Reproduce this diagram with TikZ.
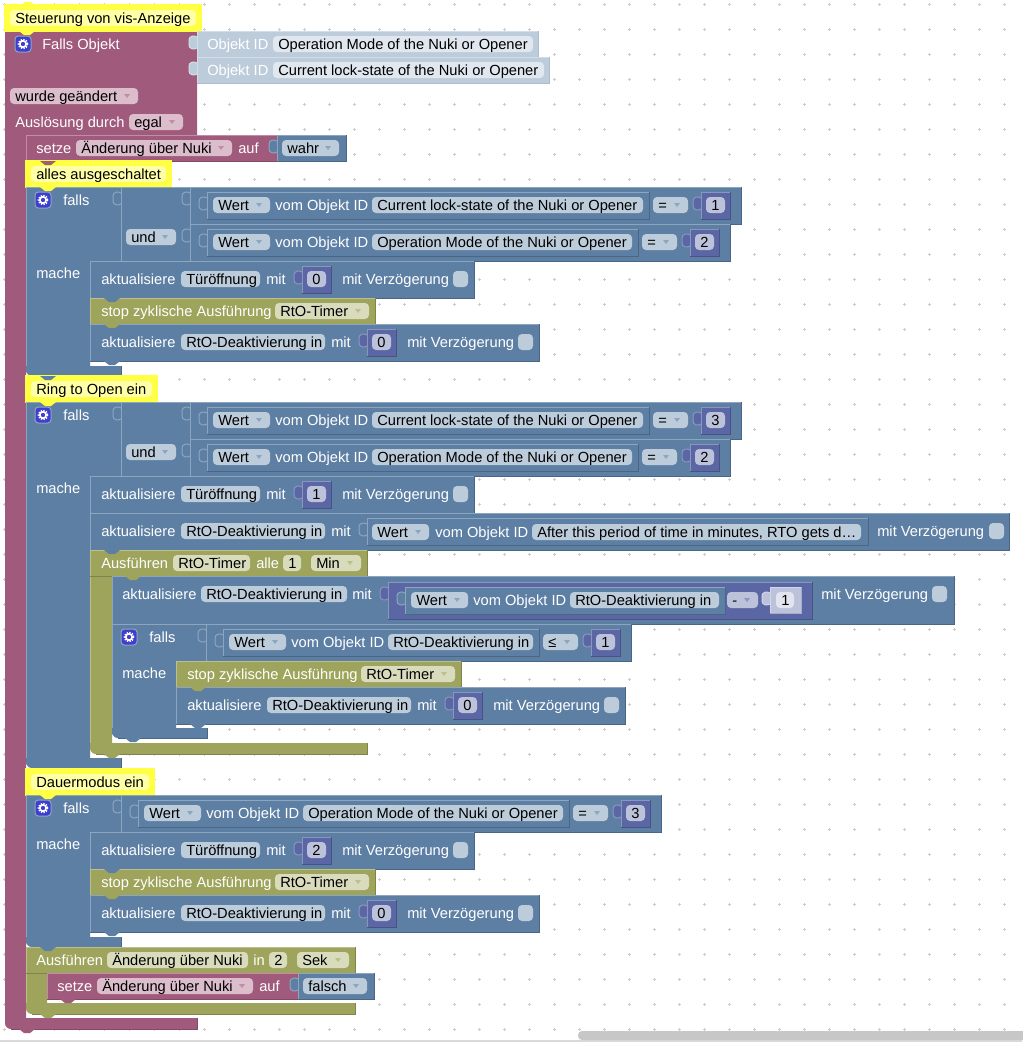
\documentclass[tikz,border=0pt]{standalone}
\usepackage{fontspec}
\setmainfont{Liberation Sans}
\definecolor{blueM}{HTML}{5E7FA4}\definecolor{blueL}{HTML}{8CA6C0}\definecolor{blueD}{HTML}{496684}\definecolor{blueP}{HTML}{BDCCDB}
\definecolor{roseM}{HTML}{A05A7C}\definecolor{roseL}{HTML}{C08CA6}\definecolor{roseD}{HTML}{844966}\definecolor{roseP}{HTML}{DBBDCC}
\definecolor{oliveM}{HTML}{9FA45C}\definecolor{oliveL}{HTML}{BCC08C}\definecolor{oliveD}{HTML}{808449}\definecolor{oliveP}{HTML}{D9DBBD}
\definecolor{mathM}{HTML}{5B67A5}\definecolor{mathL}{HTML}{8C95C0}\definecolor{mathD}{HTML}{495284}\definecolor{mathP}{HTML}{BDC2DB}
\definecolor{glassM}{HTML}{BDCCDB}\definecolor{glassL}{HTML}{D3DDE8}\definecolor{glassD}{HTML}{AABCCE}\definecolor{glassP}{HTML}{E0E7EE}
\definecolor{lilacM}{HTML}{BDC2DB}\definecolor{lilacL}{HTML}{D3D6E8}\definecolor{lilacD}{HTML}{A5ABCB}\definecolor{lilacP}{HTML}{E2E4F0}
\definecolor{noteM}{HTML}{FFFF44}\definecolor{noteP}{HTML}{FFFFA8}
\definecolor{gearB}{HTML}{3F3FCF}
\tikzset{x=0.75pt,y=-0.75pt,
    ink/.style={anchor=base west,inner sep=0pt,text=white,font=\fontsize{11}{13}\selectfont},
    dark/.style={ink,text=black},
    edge/.style={line width=0.75pt}}
% blocks, in pixels of the screenshot
\newcommand{\blk}[5]{\fill[#1M] (#2,#3) rectangle (#4,#5);
    \draw[#1L,edge] (#2,#5) -- (#2,#3) -- (#4,#3);
    \draw[#1D,edge] (#4,#3) -- (#4,#5) -- (#2,#5);}
\newcommand{\head}[4]{\fill[blueM] (#1,#2) rectangle (#3,#4);
    \draw[blueL,edge] (#1,#4) -- (#1,#2) -- (#3,#2);}
\newcommand{\cee}[7]{\fill[#1M] (#2,#3) -- (#4,#3) -- (#4,#5) -- (#6,#5) -- (#6,#7)
    {[rounded corners=4.5pt] -- (#2,#7) -- (#2,#5)} -- cycle;
    \draw[#1L,edge] (#2,#5) -- (#2,#3);
    \draw[#1D,edge] (#6,#5) -- (#6,#7) -- (#2+6,#7);}
\newcommand{\notch}[3]{\fill[#1M] (#2-8,#3) -- (#2-3,#3+4) -- (#2+3,#3+4) -- (#2+8,#3) -- cycle;}
\newcommand{\socket}[3]{\filldraw[fill=#1M,draw=#1L,edge] (#2,#3+6) .. controls (#2-3,#3+4) and (#2-8,#3+5) .. (#2-8,#3+9)
    -- (#2-8,#3+14) .. controls (#2-8,#3+18) and (#2-3,#3+19) .. (#2,#3+17);}
\newcommand{\lbl}[3]{\node[ink] (l#1-#2) at (#1,#2+5) {#3};}
\newcommand{\pill}[5]{\fill[#1P,rounded corners=3pt] (#2,#4-8) rectangle (#3,#4+8);
    \node[dark] (p#2-#4) at (#2+5,#4+5) {#5};}
\newcommand{\dd}[5]{\pill{#1}{#2}{#3}{#4}{#5}
    \fill[#1L] (#3-14,#4-2) -- (#3-8,#4-2) -- (#3-11,#4+2) -- cycle;}
\newcommand{\chk}[2]{\fill[blueP,rounded corners=3pt] (#1,#2-8) rectangle (#1+15,#2+8);}
\newcommand{\gear}[2]{\filldraw[fill=gearB,draw=blueL,edge,rounded corners=2.5pt] (#1-8,#2-8) rectangle (#1+8,#2+8);
    \draw[white,line width=1.2pt] (#1,#2) circle (2.4pt);
    \draw[white,line width=1.2pt,dash pattern=on 1pt off 1pt] (#1,#2) circle (3.4pt);}
\newcommand{\cmt}[4]{\filldraw[fill=noteM,draw=noteM,line width=1.5pt] (#1,#2) rectangle (#3,#2+26);
    \fill[noteP,rounded corners=3pt] (#1+5,#2+5) rectangle (#3-5,#2+21);
    \node[dark] (c#1-#2) at (#1+10,#2+18) {#4};}
\newcommand{\num}[4]{\socket{math}{#1}{#2}\blk{math}{#1}{#2}{#1+29}{#2+27}
    \pgfmathtruncatemacro\numx{#1+5}\pgfmathtruncatemacro\numr{#1+24}\pgfmathtruncatemacro\numy{#2+13}
    \pill{math}{\numx}{\numr}{\numy}{#3}}
% nested "Wert vom Objekt ID" block, #1 left, #2 top, #3 pill width, #4 text
\newcommand{\wert}[4]{\pgfmathtruncatemacro\wxy{#2+13}\pgfmathtruncatemacro\wxa{#1+6}\pgfmathtruncatemacro\wxb{#1+63}
    \pgfmathtruncatemacro\wxc{#1+68}\pgfmathtruncatemacro\wxd{#1+165}\pgfmathtruncatemacro\wxe{#1+165+#3}
    \socket{blue}{#1}{#2}\blk{blue}{#1}{#2}{#1+165+#3+6}{#2+27}
    \dd{blue}{\wxa}{\wxb}{\wxy}{Wert}\lbl{\wxc}{\wxy}{vom Objekt ID}\pill{blue}{\wxd}{\wxe}{\wxy}{#4}}
% comparison, #1 nested left, #2 top, #3 pill width, #4 text, #5 operator, #6 number
\newcommand{\cmp}[6]{\pgfmathtruncatemacro\cxl{#1-17}\pgfmathtruncatemacro\cxt{#2+5}\pgfmathtruncatemacro\cxb{#2+37}
    \pgfmathtruncatemacro\cxa{#1+165+#3+10}\pgfmathtruncatemacro\cxc{#1+165+#3+45}\pgfmathtruncatemacro\cxy{#2+18}
    \pgfmathtruncatemacro\cxn{#1+165+#3+58}\pgfmathtruncatemacro\cxe{#1+165+#3+98}
    \socket{blue}{\cxl}{#2}\blk{blue}{\cxl}{#2}{\cxe}{\cxb}
    \wert{#1}{\cxt}{#3}{#4}\dd{blue}{\cxa}{\cxc}{\cxy}{#5}\num{\cxn}{\cxt}{#6}{}}
% update block, #1 left, #2 top, #3 pill width, #4 text, #5 number
\newcommand{\akt}[5]{\pgfmathtruncatemacro\axy{#2+18}\pgfmathtruncatemacro\axz{#2+5}\pgfmathtruncatemacro\axa{#1+11}
    \pgfmathtruncatemacro\axb{#1+91}\pgfmathtruncatemacro\axc{#1+91+#3}\pgfmathtruncatemacro\axd{#1+97+#3}
    \pgfmathtruncatemacro\axn{#1+133+#3}\pgfmathtruncatemacro\axe{#1+173+#3}\pgfmathtruncatemacro\axf{#1+284+#3}
    \blk{blue}{#1}{#2}{#1+305+#3}{#2+37}
    \lbl{\axa}{\axy}{aktualisiere}\pill{blue}{\axb}{\axc}{\axy}{#4}\lbl{\axd}{\axy}{mit}
    \num{\axn}{\axz}{#5}{}\lbl{\axe}{\axy}{mit Verzögerung}\chk{\axf}{\axy}}
\newcommand{\stopz}[2]{\pgfmathtruncatemacro\sxy{#2+13}\pgfmathtruncatemacro\sxa{#1+11}\pgfmathtruncatemacro\sxb{#1+185}
    \pgfmathtruncatemacro\sxc{#1+279}
    \blk{olive}{#1}{#2}{#1+285}{#2+26}\lbl{\sxa}{\sxy}{stop zyklische Ausführung}\dd{olive}{\sxb}{\sxc}{\sxy}{RtO-Timer}}
\newcommand{\setze}[4]{\pgfmathtruncatemacro\txy{#2+13}\pgfmathtruncatemacro\txa{#1+10}\pgfmathtruncatemacro\txb{#1+50}
    \pgfmathtruncatemacro\txc{#1+206}\pgfmathtruncatemacro\txd{#1+212}\pgfmathtruncatemacro\txe{#1+251}
    \pgfmathtruncatemacro\txf{#1+256}\pgfmathtruncatemacro\txg{#1+251+#4-7}
    \blk{rose}{#1}{#2}{#1+251}{#2+26}\lbl{\txa}{\txy}{setze}\dd{rose}{\txb}{\txc}{\txy}{Änderung über Nuki}\lbl{\txd}{\txy}{auf}
    \socket{blue}{\txe}{#2}\blk{blue}{\txe}{#2}{#1+251+#4}{#2+26}\dd{blue}{\txf}{\txg}{\txy}{#3}}
\newcommand{\falls}[2]{\pgfmathtruncatemacro\fxy{#2+13}\pgfmathtruncatemacro\fxa{#1+37}
    \gear{#1+17}{#2+13}\lbl{\fxa}{\fxy}{falls}}
% head of an if with two rows, #1 top, #2 and #3 numbers
\newcommand{\twoif}[3]{\pgfmathtruncatemacro\hxb{#1+37}\pgfmathtruncatemacro\hxc{#1+50}\pgfmathtruncatemacro\hxd{#1+86}
    \head{26}{#1}{121}{#1+74}
    \falls{26}{#1}\socket{blue}{121}{#1}\head{121}{#1}{190}{#1+74}
    \dd{blue}{126}{176}{\hxc}{und}\lbl{36}{\hxd}{mache}
    \cmp{207}{#1}{271}{Current lock-state of the Nuki or Opener}{=}{#2}
    \cmp{207}{\hxb}{260}{Operation Mode of the Nuki or Opener}{=}{#3}}

\begin{document}
\begin{tikzpicture}
    \useasboundingbox (0,0) rectangle (1022,1042);
    \fill[white] (0,0) rectangle (1022,1042);
    \foreach \gx in {4,29,...,1004}
      \foreach \gy in {4,29,...,1029}
        \draw[black!20,edge] (\gx-1.5,\gy) -- (\gx+1.5,\gy) (\gx,\gy-1.5) -- (\gx,\gy+1.5);
    \fill[black!15] (0,1040) rectangle (1022,1042);
    \fill[black!22,rounded corners=3pt] (578,1031) rectangle (1030,1040);
    \fill[noteM] (20,6) -- (25,2) -- (31,2) -- (36,6) -- cycle;
    \fill[roseM] (5,31) -- (197,31) -- (197,135) -- (26,135) -- (26,1018) -- (197,1018) -- (197,1029)
      {[rounded corners=4.5pt] -- (5,1029) -- (5,1018)} -- cycle;
    \draw[roseD,edge] (197,1018) -- (197,1029) -- (11,1029);
    \notch{rose}{27}{1029}
    \cmt{5}{5}{201}{Steuerung von vis-Anzeige}
    \notch{note}{27}{31}
    \gear{23}{44}
    \lbl{42}{44}{Falls Objekt}
    \socket{glass}{197}{31}
    \blk{glass}{197}{31}{538}{57}
    \lbl{207}{44}{Objekt ID}
    \fill[glassP,rounded corners=3pt] (273,36) rectangle (533,52);
    \node[dark] (p278-44) at (278,49) {Operation Mode of the Nuki or Opener};
    \socket{glass}{197}{57}
    \blk{glass}{197}{57}{549}{83}
    \lbl{207}{70}{Objekt ID}
    \fill[glassP,rounded corners=3pt] (273,62) rectangle (544,78);
    \node[dark] (p278-70) at (278,75) {Current lock-state of the Nuki or Opener};
    \dd{rose}{10}{138}{96}{wurde geändert}
    \lbl{15}{122}{Auslösung durch}
    \dd{rose}{129}{183}{122}{egal}
    \setze{26}{135}{wahr}{69}
    \cmt{26}{161}{171}{alles ausgeschaltet}
    \notch{rose}{48}{161}

    \cee{blue}{26}{187}{90}{366}{121}{376}
    \twoif{187}{1}{2}
    \notch{note}{48}{187}
    \akt{90}{261}{79}{Türöffnung}{0}
    \stopz{90}{298}
    \notch{blue}{112}{298}
    \akt{90}{324}{144}{RtO-Deaktivierung in}{0}
    \notch{olive}{112}{324}
    \notch{blue}{112}{361}

    \cmt{26}{376}{157}{Ring to Open ein}
    \notch{blue}{48}{376}
    \cee{blue}{26}{402}{90}{758}{121}{768}
    \twoif{402}{3}{2}
    \notch{note}{48}{402}
    \akt{90}{476}{79}{Türöffnung}{1}
    \blk{blue}{90}{513}{1009}{550}
    \lbl{101}{531}{aktualisiere}
    \pill{blue}{181}{325}{531}{RtO-Deaktivierung in}
    \lbl{331}{531}{mit}
    \socket{blue}{367}{518}
    \blk{blue}{367}{518}{868}{545}
    \dd{blue}{372}{429}{532}{Wert}
    \lbl{435}{532}{vom Objekt ID}
    \pill{blue}{532}{861}{532}{After this period of time in minutes, RTO gets d…}
    \lbl{877}{531}{mit Verzögerung}
    \chk{989}{531}

    \cee{olive}{90}{550}{112}{743}{367}{754}
    \blk{olive}{90}{550}{367}{576}
    \notch{blue}{112}{550}
    \lbl{101}{563}{Ausführen}
    \pill{olive}{173}{250}{563}{RtO-Timer}
    \lbl{256}{563}{alle}
    \pill{olive}{283}{301}{563}{1}
    \dd{olive}{311}{361}{563}{Min}

    \blk{blue}{112}{576}{954}{624}
    \notch{olive}{133}{576}
    \lbl{122}{594}{aktualisiere}
    \pill{blue}{201}{347}{594}{RtO-Deaktivierung in}
    \lbl{352}{594}{mit}
    \socket{math}{388}{582}
    \blk{math}{388}{582}{812}{619}
    \wert{405}{587}{149}{RtO-Deaktivierung in}
    \dd{math}{727}{758}{600}{-}
    \socket{lilac}{770}{587}
    \blk{lilac}{770}{587}{801}{613}
    \fill[lilacP,rounded corners=3pt] (776,592) rectangle (794,608);
    \node[dark] (p781-600) at (781,605) {1};
    \lbl{821}{594}{mit Verzögerung}
    \chk{932}{594}

    \cee{blue}{112}{624}{176}{728}{207}{738}
    \head{112}{624}{207}{661}
    \falls{112}{624}
    \lbl{122}{673}{mache}
    \cmp{223}{624}{145}{RtO-Deaktivierung in}{≤}{1}
    \notch{blue}{133}{738}
    \stopz{176}{661}
    \akt{176}{687}{144}{RtO-Deaktivierung in}{0}
    \notch{olive}{198}{687}
    \notch{blue}{198}{724}
    \notch{olive}{112}{754}
    \notch{blue}{48}{768}

    \cmt{26}{769}{154}{Dauermodus ein}
    \cee{blue}{26}{795}{90}{937}{121}{947}
    \head{26}{795}{121}{832}
    \notch{note}{48}{795}
    \falls{26}{795}
    \cmp{138}{795}{260}{Operation Mode of the Nuki or Opener}{=}{3}
    \lbl{36}{844}{mache}
    \akt{90}{832}{79}{Türöffnung}{2}
    \stopz{90}{869}
    \notch{blue}{112}{869}
    \akt{90}{895}{144}{RtO-Deaktivierung in}{0}
    \notch{olive}{112}{895}
    \notch{blue}{112}{932}

    \cee{olive}{26}{947}{47}{1003}{355}{1014}
    \blk{olive}{26}{947}{355}{973}
    \notch{blue}{48}{947}
    \lbl{36}{960}{Ausführen}
    \pill{olive}{107}{248}{960}{Änderung über Nuki}
    \lbl{253}{960}{in}
    \pill{olive}{269}{287}{960}{2}
    \dd{olive}{297}{349}{960}{Sek}
    \setze{47}{973}{falsch}{76}
    \notch{rose}{68}{999}
    \notch{olive}{48}{1014}
\end{tikzpicture}
\end{document}
